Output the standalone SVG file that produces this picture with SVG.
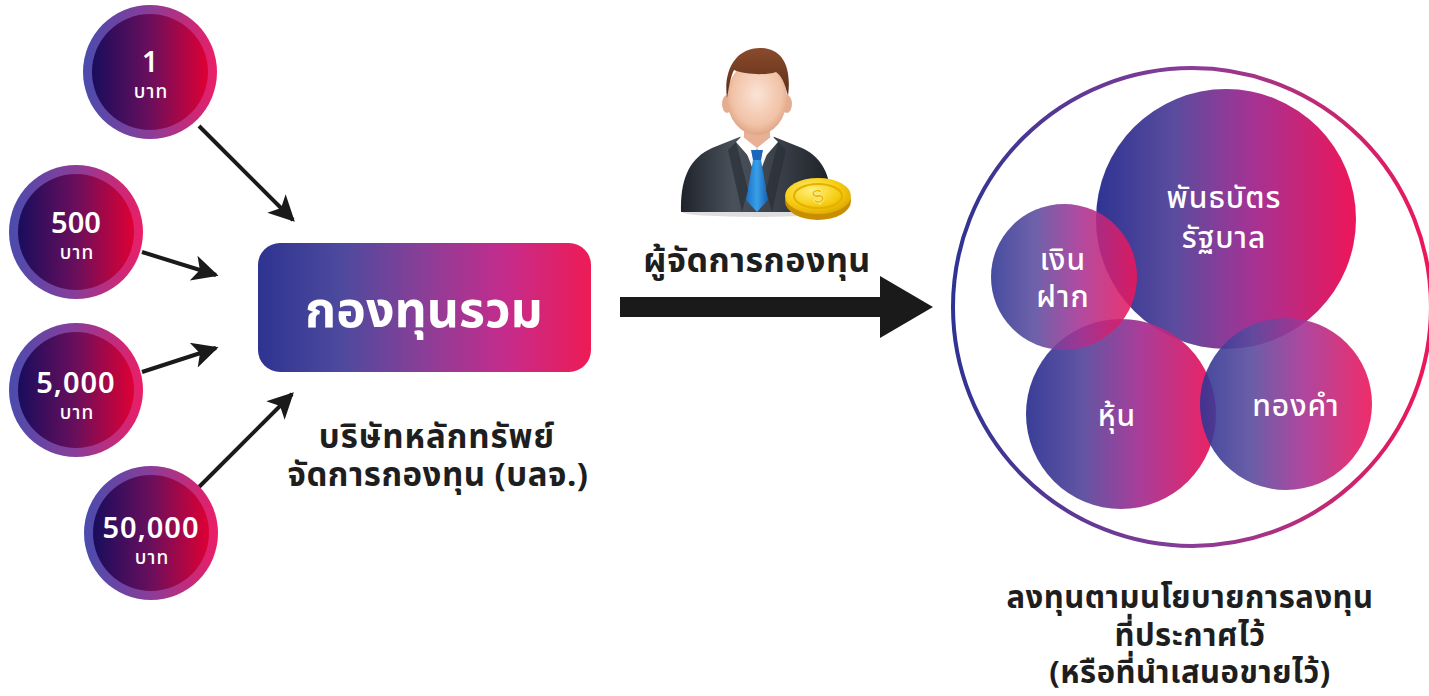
<svg xmlns="http://www.w3.org/2000/svg" width="1429" height="696" viewBox="0 0 1429 696">
  <style>
    .th { font-family: "Noto Sans Thai", "Noto Sans", "Liberation Sans", sans-serif; }
    .coin-val { fill: #ffffff; font-weight: 600; text-anchor: middle; }
    .coin-unit { fill: #ffffff; font-weight: 500; font-size: 19px; text-anchor: middle; letter-spacing: 1px; }
    .label { fill: #1e1e1e; font-weight: 700; text-anchor: middle; }
    .asset { fill: #ffffff; font-weight: 500; font-size: 30px; text-anchor: middle; letter-spacing: 1px; }
    .link { stroke: #1a1a1a; stroke-width: 4; fill: none; marker-end: url(#head); }
    .ring { fill: url(#ringGrad); }
    .core { fill: url(#coreGrad); }
    .bubble { fill: url(#bubbleGrad); }
  </style>
  <defs>
    <linearGradient id="ringGrad" x1="0" y1="0" x2="1" y2="0">
      <stop offset="0" stop-color="#4a4cae"/>
      <stop offset="0.5" stop-color="#8a3d98"/>
      <stop offset="1" stop-color="#ec1e66"/>
    </linearGradient>
    <linearGradient id="coreGrad" x1="0" y1="0" x2="1" y2="0">
      <stop offset="0" stop-color="#180d5c"/>
      <stop offset="0.5" stop-color="#6a0f5c"/>
      <stop offset="1" stop-color="#de0034"/>
    </linearGradient>
    <linearGradient id="boxGrad" x1="0" y1="0" x2="1" y2="0">
      <stop offset="0" stop-color="#2e3391"/>
      <stop offset="0.25" stop-color="#4d4a9e"/>
      <stop offset="0.5" stop-color="#8b3e97"/>
      <stop offset="0.75" stop-color="#c62b8b"/>
      <stop offset="1" stop-color="#ee1b55"/>
    </linearGradient>
    <linearGradient id="bubbleGrad" x1="0" y1="0" x2="1" y2="0">
      <stop offset="0" stop-color="#2f3493"/>
      <stop offset="0.3" stop-color="#5a4c9e"/>
      <stop offset="0.6" stop-color="#a43394"/>
      <stop offset="1" stop-color="#ee1559"/>
    </linearGradient>
    <linearGradient id="outerGrad" gradientUnits="userSpaceOnUse" x1="952" y1="0" x2="1432" y2="0">
      <stop offset="0" stop-color="#2e3393"/>
      <stop offset="0.5" stop-color="#8a3d97"/>
      <stop offset="1" stop-color="#ee1758"/>
    </linearGradient>
    <linearGradient id="suitGrad" x1="0" y1="0" x2="1" y2="0">
      <stop offset="0" stop-color="#1f242b"/>
      <stop offset="0.35" stop-color="#4a515b"/>
      <stop offset="0.65" stop-color="#3a4049"/>
      <stop offset="1" stop-color="#1d2127"/>
    </linearGradient>
    <radialGradient id="skinGrad" cx="0.5" cy="0.45" r="0.6">
      <stop offset="0" stop-color="#fbe3d6"/>
      <stop offset="0.7" stop-color="#f1c2a6"/>
      <stop offset="1" stop-color="#d99a7c"/>
    </radialGradient>
    <linearGradient id="hairGrad" x1="0" y1="0" x2="0" y2="1">
      <stop offset="0" stop-color="#8a4b2c"/>
      <stop offset="1" stop-color="#5a2c18"/>
    </linearGradient>
    <linearGradient id="tieGrad" x1="0" y1="0" x2="1" y2="0">
      <stop offset="0" stop-color="#1c6fc4"/>
      <stop offset="0.5" stop-color="#3aa0ea"/>
      <stop offset="1" stop-color="#1660b0"/>
    </linearGradient>
    <radialGradient id="goldGrad" cx="0.4" cy="0.35" r="0.7">
      <stop offset="0" stop-color="#fff07a"/>
      <stop offset="0.6" stop-color="#f6cd12"/>
      <stop offset="1" stop-color="#e0a800"/>
    </radialGradient>
    <marker id="head" viewBox="0 0 10 10" refX="9" refY="5" markerWidth="7" markerHeight="6.5" orient="auto" markerUnits="strokeWidth">
      <path d="M0,0 L10,5 L0,10 L2.5,5 Z" fill="#1a1a1a"/>
    </marker>
  </defs>

  <rect width="1429" height="696" fill="#ffffff"/>

  <!-- connectors -->
  <g id="connectors">
    <line class="link" x1="199" y1="126" x2="293" y2="220"/>
    <line class="link" x1="142" y1="252" x2="216" y2="275"/>
    <line class="link" x1="142" y1="372" x2="216" y2="348"/>
    <line class="link" x1="198" y1="488" x2="292" y2="394"/>
    <path d="M620,297 L880,297 L880,276 L933,307 L880,338 L880,317 L620,317 Z" fill="#1a1a1a"/>
  </g>

  <!-- amount coins -->
  <g id="coin-1">
    <circle class="ring" cx="150" cy="72" r="67"/>
    <circle class="core" cx="150" cy="72" r="58"/>
    <text class="th coin-val" x="150" y="72" font-size="28">1</text>
    <text class="th coin-unit" x="151" y="98">บาท</text>
  </g>
  <g id="coin-500">
    <circle class="ring" cx="76" cy="232" r="67"/>
    <circle class="core" cx="76" cy="232" r="58"/>
    <text class="th coin-val" x="76" y="233" font-size="29">500</text>
    <text class="th coin-unit" x="77" y="259">บาท</text>
  </g>
  <g id="coin-5000">
    <circle class="ring" cx="76" cy="390" r="67"/>
    <circle class="core" cx="76" cy="390" r="58"/>
    <text class="th coin-val" x="76" y="393" font-size="29" letter-spacing="1">5,000</text>
    <text class="th coin-unit" x="77" y="419">บาท</text>
  </g>
  <g id="coin-50000">
    <circle class="ring" cx="151" cy="533" r="67"/>
    <circle class="core" cx="151" cy="533" r="58"/>
    <text class="th coin-val" x="151" y="538" font-size="29" letter-spacing="1">50,000</text>
    <text class="th coin-unit" x="152" y="564">บาท</text>
  </g>

  <!-- mutual fund -->
  <g id="fund">
    <rect x="258" y="243" width="333" height="129" rx="22" fill="url(#boxGrad)"/>
    <text class="th" x="424" y="327" font-size="50" font-weight="700" fill="#ffffff" text-anchor="middle">กองทุนรวม</text>
  </g>

  <g id="amc">
    <text class="th label" x="437" y="448" font-size="33" letter-spacing="1">บริษัทหลักทรัพย์</text>
    <text class="th label" x="438" y="486" font-size="33" letter-spacing="0.5">จัดการกองทุน (บลจ.)</text>
  </g>

  <!-- fund manager figure -->
  <g id="manager">
    <ellipse cx="757" cy="212" rx="75" ry="5" fill="#c8c8c8" opacity="0.6"/>
    <path d="M681,212 C680,178 690,158 712,148 L742,136 L772,136 L802,148 C824,158 832,178 832,212 Z" fill="url(#suitGrad)"/>
    <path d="M740,136 L757,180 L774,136 Z" fill="#f4f4f4"/>
    <path d="M744,128 L770,128 L770,142 L757,152 L744,142 Z" fill="#e8b195"/>
    <path d="M742,136 L757,148 L750,158 L736,142 Z" fill="#ffffff"/>
    <path d="M772,136 L757,148 L764,158 L778,142 Z" fill="#ffffff"/>
    <path d="M751,150 L763,150 L761,160 L753,160 Z" fill="#1a66bd"/>
    <path d="M753,160 L761,160 L768,200 L757,212 L746,200 Z" fill="url(#tieGrad)"/>
    <path d="M736,142 L748,190 L742,212 L728,150 Z" fill="#2a2f36" opacity="0.7"/>
    <path d="M778,142 L766,190 L772,212 L786,150 Z" fill="#2a2f36" opacity="0.7"/>
    <ellipse cx="727" cy="104" rx="5" ry="9" fill="#e5ad90"/>
    <ellipse cx="787" cy="104" rx="5" ry="9" fill="#e5ad90"/>
    <ellipse cx="757" cy="98" rx="30" ry="37" fill="url(#skinGrad)"/>
    <path d="M727,98 C723,70 736,48 760,48 C782,48 792,66 788,96 C785,84 782,76 776,72 C764,76 744,74 734,70 C730,78 729,88 727,98 Z" fill="url(#hairGrad)"/>
    <ellipse cx="818" cy="201" rx="33" ry="19" fill="#c98e00"/>
    <ellipse cx="818" cy="196" rx="33" ry="18" fill="url(#goldGrad)"/>
    <ellipse cx="818" cy="196" rx="24" ry="12" fill="none" stroke="#e5b000" stroke-width="2"/>
    <text x="818" y="203" font-family="Liberation Sans, sans-serif" font-size="20" font-weight="700" fill="#eab800" stroke="#fff6a8" stroke-width="0.6" text-anchor="middle" transform="rotate(-18 818 196)">$</text>
  </g>

  <g id="manager-label">
    <text class="th label" x="757" y="272" font-size="34" letter-spacing="0.5">ผู้จัดการกองทุน</text>
  </g>

  <!-- investment universe -->
  <g id="portfolio">
    <circle cx="1192" cy="307" r="239" fill="none" stroke="url(#outerGrad)" stroke-width="4"/>
  </g>
  <g id="bonds">
    <circle class="bubble" cx="1226" cy="219" r="130"/>
    <text class="th asset" x="1224" y="208">พันธบัตร</text>
    <text class="th asset" x="1224" y="248">รัฐบาล</text>
  </g>
  <g id="stocks">
    <circle class="bubble" cx="1121" cy="414" r="95" opacity="0.95"/>
    <text class="th asset" x="1117" y="426">หุ้น</text>
  </g>
  <g id="deposits">
    <circle class="bubble" cx="1064" cy="277" r="73" opacity="0.88"/>
    <text class="th asset" x="1063" y="270">เงิน</text>
    <text class="th asset" x="1063" y="307">ฝาก</text>
  </g>
  <g id="gold">
    <circle class="bubble" cx="1286" cy="404" r="86" opacity="0.9"/>
    <text class="th asset" x="1296" y="416">ทองคำ</text>
  </g>

  <g id="policy-label">
    <text class="th label" x="1190" y="608" font-size="31" letter-spacing="0.5">ลงทุนตามนโยบายการลงทุน</text>
    <text class="th label" x="1190" y="646" font-size="31" letter-spacing="0.5">ที่ประกาศไว้</text>
    <text class="th label" x="1190" y="683" font-size="31" letter-spacing="0.5">(หรือที่นำเสนอขายไว้)</text>
  </g>
</svg>
